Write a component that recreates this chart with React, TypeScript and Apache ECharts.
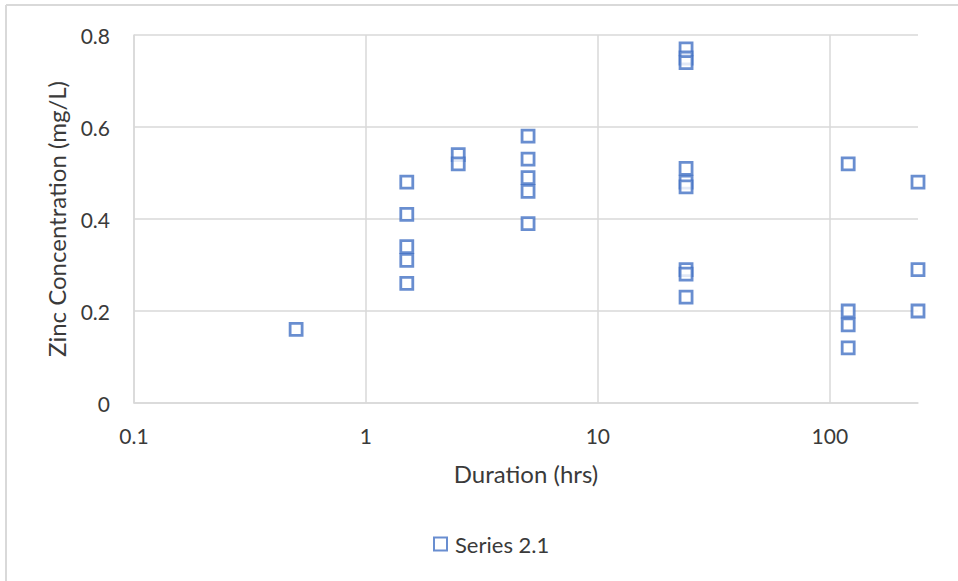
import React, { useEffect, useRef } from "react";
import * as echarts from "echarts";

const durations = [0.5, 1.5, 1.5, 1.5, 1.5, 1.5, 2.5, 2.5, 5, 5, 5, 5, 5, 24, 24, 24, 24, 24, 24, 24, 24, 24, 120, 120, 120, 120, 240, 240, 240];
const zinc = [0.16, 0.48, 0.41, 0.34, 0.31, 0.26, 0.54, 0.52, 0.58, 0.53, 0.49, 0.46, 0.39, 0.77, 0.75, 0.74, 0.51, 0.48, 0.47, 0.29, 0.28, 0.23, 0.52, 0.2, 0.17, 0.12, 0.48, 0.29, 0.2];
const seriesName = "Series 2.1";
const xTitle = "Duration (hrs)";
const yTitle = "Zinc Concentration (mg/L)";

const FONT = "Lato, 'Open Sans', sans-serif";
const TEXT = "#3a3a3a";

export default function App() {
  const ref = useRef<HTMLDivElement>(null);
  useEffect(() => {
    document.body.style.margin = "0";
    const chart = echarts.init(ref.current!, null, { renderer: "svg" });
    const data = durations.map((d, i) => [d, zinc[i]]);
    chart.setOption({
      animation: false,
      backgroundColor: "#ffffff",
      textStyle: { fontFamily: FONT },
      grid: { left: 134, top: 35, right: 40, bottom: 178, containLabel: false },
      legend: {
        data: [seriesName],
        bottom: 21,
        left: 428,
        itemWidth: 13,
        itemHeight: 13,
        itemGap: 4,
        textStyle: { fontSize: 22, color: TEXT, fontFamily: FONT, padding: [0, 0, 0, 3] },
      },
      xAxis: {
        type: "log",
        logBase: 10,
        min: 0.1,
        max: 240,
        name: xTitle,
        nameLocation: "middle",
        nameGap: 58,
        nameTextStyle: { fontSize: 24, color: TEXT, fontFamily: FONT },
        axisLine: { show: true, lineStyle: { color: "#d9d9d9", width: 1.5 } },
        axisTick: { show: false },
        axisLabel: {
          fontSize: 21,
          color: TEXT,
          margin: 22,
          showMaxLabel: false,
          formatter: (v: number) => String(v),
        },
        splitLine: { show: true, showMaxLine: false, lineStyle: { color: "#d9d9d9", width: 1.5 } },
      },
      yAxis: {
        type: "value",
        min: 0,
        max: 0.8,
        interval: 0.2,
        name: yTitle,
        nameLocation: "middle",
        nameGap: 66,
        nameTextStyle: { fontSize: 24, color: TEXT, fontFamily: FONT },
        axisLine: { show: true, lineStyle: { color: "#d9d9d9", width: 1.5 } },
        axisTick: { show: false },
        axisLabel: {
          fontSize: 21,
          color: TEXT,
          margin: 24,
          formatter: (v: number) => (v === 0 ? "0" : v.toFixed(1)),
        },
        splitLine: { show: true, lineStyle: { color: "#d9d9d9", width: 1.5 } },
      },
      graphic: [
        { type: "line", shape: { x1: 6, y1: 5, x2: 958, y2: 5 }, style: { stroke: "#d9d9d9", lineWidth: 2 } },
        { type: "line", shape: { x1: 6, y1: 5, x2: 6, y2: 581 }, style: { stroke: "#d9d9d9", lineWidth: 2 } },
      ],
      series: [
        {
          name: seriesName,
          type: "scatter",
          data,
          symbol: "rect",
          symbolSize: 12,
          itemStyle: { color: "#ffffff", borderColor: "#4472C4", borderWidth: 2.8 },
        },
      ],
    });
    return () => chart.dispose();
  }, []);
  return <div ref={ref} style={{ width: 958, height: 581 }} />;
}
